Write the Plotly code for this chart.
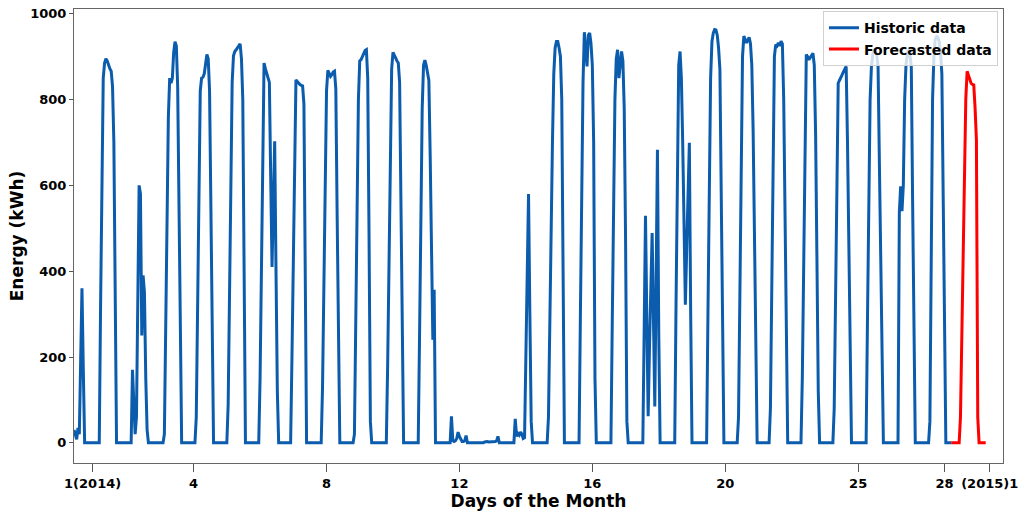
import plotly.graph_objects as go

# Hourly energy output (kWh). Day 0 starts at 11:00; every other day lists hours 0..23.
day00 = [30, 20, 8, 35, 20, 190, 360, 170, 0, 0, 0, 0, 0]
day01 = [0, 0, 0, 0, 0, 0, 0, 320, 640, 850, 885, 895, 890, 880, 872, 866, 830, 700, 380, 0, 0, 0, 0, 0]
day02 = [0, 0, 0, 0, 0, 0, 0, 170, 90, 20, 60, 330, 600, 580, 250, 390, 350, 150, 30, 0, 0, 0, 0, 0]
day03 = [0, 0, 0, 0, 0, 0, 0, 20, 270, 510, 760, 850, 838, 850, 910, 935, 925, 830, 600, 280, 0, 0, 0, 0]
day04 = [0, 0, 0, 0, 0, 0, 0, 60, 320, 580, 820, 850, 852, 860, 880, 905, 895, 820, 550, 220, 0, 0, 0, 0]
day05 = [0, 0, 0, 0, 0, 0, 0, 90, 360, 620, 840, 902, 912, 916, 920, 926, 930, 895, 800, 400, 0, 0, 0, 0]
day06 = [0, 0, 0, 0, 0, 0, 0, 150, 420, 680, 885, 872, 860, 850, 840, 620, 410, 560, 703, 400, 120, 0, 0, 0]
day07 = [0, 0, 0, 0, 0, 0, 0, 200, 450, 700, 846, 842, 838, 835, 833, 832, 790, 400, 0, 0, 0, 0, 0, 0]
day08 = [0, 0, 0, 0, 0, 0, 130, 370, 600, 820, 868, 862, 854, 858, 864, 866, 825, 530, 200, 0, 0, 0, 0, 0]
day09 = [0, 0, 0, 0, 0, 0, 20, 280, 550, 800, 890, 893, 900, 908, 914, 916, 850, 480, 50, 0, 0, 0, 0, 0]
day10 = [0, 0, 0, 0, 0, 0, 0, 180, 430, 680, 870, 910, 905, 897, 890, 885, 840, 560, 150, 0, 0, 0, 0, 0]
day11 = [0, 0, 0, 0, 0, 0, 0, 250, 520, 780, 880, 892, 880, 865, 845, 670, 430, 240, 357, 0, 0, 0, 0, 0]
day12 = [0, 0, 0, 0, 0, 0, 0, 62, 5, 3, 5, 10, 25, 15, 8, 3, 3, 5, 17, 0, 0, 0, 0, 0]
day13 = [0, 0, 0, 0, 0, 0, 0, 0, 2, 3, 3, 2, 2, 2, 3, 2, 3, 5, 15, 0, 0, 0, 0, 0]
day14 = [0, 0, 0, 0, 0, 0, 0, 56, 15, 22, 18, 25, 20, 10, 12, 200, 400, 580, 300, 50, 0, 0, 0, 0]
day15 = [0, 0, 0, 0, 0, 0, 0, 0, 60, 300, 480, 700, 860, 920, 935, 935, 920, 900, 800, 370, 0, 0, 0, 0]
day16 = [0, 0, 0, 0, 0, 0, 0, 0, 290, 580, 840, 957, 925, 877, 950, 955, 930, 880, 700, 150, 0, 0, 0, 0]
day17 = [0, 0, 0, 0, 0, 0, 0, 0, 280, 560, 800, 895, 916, 850, 885, 912, 890, 780, 480, 50, 0, 0, 0, 0]
day18 = [0, 0, 0, 0, 0, 0, 0, 0, 260, 529, 290, 62, 220, 380, 489, 290, 85, 380, 683, 250, 0, 0, 0, 0]
day19 = [0, 0, 0, 0, 0, 0, 0, 0, 330, 640, 880, 912, 850, 700, 500, 322, 450, 600, 699, 300, 0, 0, 0, 0]
day20 = [0, 0, 0, 0, 0, 0, 0, 0, 300, 600, 850, 935, 955, 963, 962, 950, 920, 870, 600, 280, 0, 0, 0, 0]
day21 = [0, 0, 0, 0, 0, 0, 0, 60, 350, 640, 900, 948, 940, 932, 938, 945, 930, 880, 726, 446, 166, 0, 0, 0]
day22 = [0, 0, 0, 0, 0, 0, 0, 80, 380, 680, 900, 928, 925, 932, 925, 936, 930, 800, 480, 160, 0, 0, 0, 0]
day23 = [0, 0, 0, 0, 0, 0, 0, 150, 450, 750, 905, 900, 893, 898, 904, 908, 880, 720, 430, 120, 0, 0, 0, 0]
day24 = [0, 0, 0, 0, 0, 0, 0, 80, 360, 640, 838, 845, 850, 858, 865, 872, 877, 700, 450, 200, 0, 0, 0, 0]
day25 = [0, 0, 0, 0, 0, 0, 0, 0, 280, 560, 800, 877, 905, 915, 915, 905, 877, 650, 400, 120, 0, 0, 0, 0]
day26 = [0, 0, 0, 0, 0, 0, 0, 0, 536, 598, 540, 600, 800, 880, 905, 916, 905, 877, 560, 200, 0, 0, 0, 0]
day27 = [0, 0, 0, 0, 0, 0, 0, 50, 450, 800, 900, 940, 947, 945, 935, 910, 860, 600, 300, 0, 0, 0, 0, 0]

# Forecast: next day hours 0..23 plus two more hours
forecast_vals = [0, 0, 0, 0, 0, 0, 60, 256, 480, 690, 800, 866, 858, 846, 838, 835, 834, 780, 706, 60,
                 0, 0, 0, 0, 0, 0]

tick_hours = [14, 90, 190, 290, 390, 490, 590, 655, 689]
tick_labels = ["1(2014)", "4", "8", "12", "16", "20", "25", "28", "(2015)1"]
y_ticks = [0, 200, 400, 600, 800, 1000]

historic = (day00 + day01 + day02 + day03 + day04 + day05 + day06 + day07 + day08 + day09 +
            day10 + day11 + day12 + day13 + day14 + day15 + day16 + day17 + day18 + day19 +
            day20 + day21 + day22 + day23 + day24 + day25 + day26 + day27)
hours_hist = list(range(len(historic)))
hours_fc = list(range(len(historic), len(historic) + len(forecast_vals)))

BLUE = "#0b5cad"
RED = "#ff0000"
FONT = "DejaVu Sans"

fig = go.Figure()
fig.add_trace(go.Scatter(x=hours_hist, y=historic, mode="lines", name="Historic data",
                         line=dict(color=BLUE, width=3)))
fig.add_trace(go.Scatter(x=[hours_hist[-1]] + hours_fc, y=[historic[-1]] + forecast_vals,
                         mode="lines", name="Forecasted data",
                         line=dict(color=RED, width=3)))

fig.update_layout(
    width=1024, height=511,
    margin=dict(l=74, r=21, t=9, b=48, autoexpand=False),
    paper_bgcolor="white", plot_bgcolor="white",
    font=dict(family=FONT, color="black"),
    showlegend=True,
    legend=dict(x=0.9946, xanchor="right", y=0.995, yanchor="top",
                bgcolor="rgba(255,255,255,0.8)", bordercolor="#d0d0d0", borderwidth=1,
                font=dict(family=FONT, size=14, color="black", weight="bold"),
                tracegroupgap=0, itemwidth=30),
)
fig.update_xaxes(
    range=[0, 699], tickmode="array", tickvals=tick_hours, ticktext=tick_labels,
    showgrid=False, zeroline=False, showline=True, mirror=True, automargin=False,
    ticklabeloverflow="allow",
    linecolor="#666666", linewidth=1,
    ticks="outside", ticklen=8, tickcolor="#555555",
    tickfont=dict(family=FONT, size=13, color="black", weight="bold"),
    title=dict(text="Days of the Month", standoff=0,
               font=dict(family=FONT, size=17, color="black", weight="bold")),
)
fig.update_yaxes(
    range=[-47, 1011], tickmode="array", tickvals=y_ticks,
    showgrid=False, zeroline=False, showline=True, mirror=True, automargin=False,
    ticklabeloverflow="allow",
    linecolor="#666666", linewidth=1,
    ticks="outside", ticklen=4, tickcolor="#555555",
    tickfont=dict(family=FONT, size=13, color="black", weight="bold"),
    title=dict(text="Energy (kWh)", standoff=2,
               font=dict(family=FONT, size=17, color="black", weight="bold")),
)

# Remove the default page margin so the 1024x511 figure fills the window exactly.
fig.write_html("out.html", config={"displayModeBar": False},
               post_script="document.body.style.margin='0px';")
